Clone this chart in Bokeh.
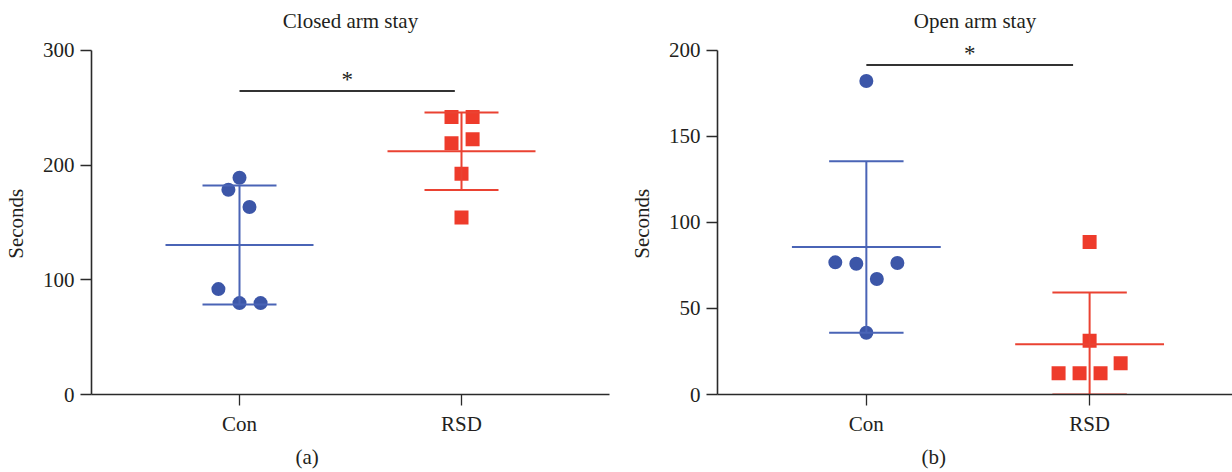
import numpy as np
from bokeh.plotting import figure
from bokeh.layouts import row
from bokeh.models import Range1d, FixedTicker, Title
from bokeh.embed import file_html
from bokeh.resources import INLINE

# ---------------- data ----------------
groups = ["Con", "RSD"]
group_pos = [1, 2]

closed_con = [189.0, 178.5, 163.5, 91.9, 79.7, 79.7]
closed_con_jitter = [0.0, -0.05, 0.045, -0.095, 0.0, 0.095]
closed_rsd = [242.0, 242.0, 219.0, 222.6, 192.4, 154.2]
closed_rsd_jitter = [-0.045, 0.05, -0.045, 0.05, 0.0, 0.0]

open_con = [182.2, 76.8, 76.0, 76.4, 67.1, 35.9]
open_con_jitter = [0.0, -0.139, -0.045, 0.139, 0.047, 0.0]
open_rsd = [88.7, 31.2, 12.3, 12.3, 12.3, 18.1]
open_rsd_jitter = [0.0, 0.0, -0.139, -0.045, 0.049, 0.139]

closed_ticks = [0, 100, 200, 300]
open_ticks = [0, 50, 100, 150, 200]
closed_sig = 264.6
open_sig = 191.5
sig_text = "*"
y_label = "Seconds"

# ---------------- style ----------------
FONT = "Liberation Serif"
TXT = "#231f20"
BLUE = "#3c56a8"
BLUE_LINE = "#4a64b6"
RED = "#ee3b2b"
RED_LINE = "#ea4232"
FS = "21px"

# frame geometry (pixels): axis top at 50 px, axis bottom at 395 px from canvas top
AX_TOP = 50
AX_BOTTOM = 395
TITLE_BASE = 21
# the frame reaches the top of the canvas, so the axis label is nudged down to the
# middle of the drawn axis (0..max) with trailing no-break spaces
LABEL_PAD = "\u00a0" * 10


def panel(title, con, con_j, rsd, rsd_j, ticks, ymax, xend, sig_y, sig_x1,
          letter, letter_offset, width, bl, br):
    per_px = ymax / (AX_BOTTOM - AX_TOP)
    ytop = AX_BOTTOM * per_px
    p = figure(width=width, height=472, output_backend="svg", toolbar_location=None,
               x_range=Range1d(1 / 3, xend), y_range=Range1d(0, ytop),
               min_border_left=bl, min_border_right=br, min_border_top=0,
               min_border_bottom=472 - AX_BOTTOM)
    p.background_fill_color = "white"
    p.border_fill_color = "white"
    p.outline_line_color = None
    p.grid.visible = False

    # title drawn as a text glyph above the axis top
    xmid = (1 / 3 + xend) / 2
    p.text(x=[xmid], y=[(AX_BOTTOM - TITLE_BASE) * per_px], text=[title],
           text_font=FONT, text_font_size=FS, text_color=TXT,
           text_align="center", text_baseline="alphabetic")

    for vals, jit, pos, mcol, lcol, marker in (
            (con, con_j, group_pos[0], BLUE, BLUE_LINE, "circle"),
            (rsd, rsd_j, group_pos[1], RED, RED_LINE, "square")):
        v = np.array(vals)
        m = float(v.mean())
        s = float(v.std(ddof=1))
        lo = max(m - s, 0.0)
        hi = m + s
        xs = [pos + j for j in jit]
        p.scatter(xs, vals, marker=marker, size=14, fill_color=mcol,
                  line_color=mcol, line_width=0)
        p.segment(x0=[pos - 1 / 3], y0=[m], x1=[pos + 1 / 3], y1=[m],
                  line_color=lcol, line_width=2)
        p.segment(x0=[pos - 1 / 6, pos - 1 / 6], y0=[lo, hi],
                  x1=[pos + 1 / 6, pos + 1 / 6], y1=[lo, hi],
                  line_color=lcol, line_width=2)
        p.segment(x0=[pos], y0=[lo], x1=[pos], y1=[hi], line_color=lcol, line_width=2)

    # significance bar
    p.segment(x0=[group_pos[0]], y0=[sig_y], x1=[sig_x1], y1=[sig_y],
              line_color="#333333", line_width=2.2)
    p.text(x=[(group_pos[0] + sig_x1) / 2], y=[sig_y], text=[sig_text],
           text_font=FONT, text_font_size="23px", text_color=TXT,
           text_align="center", text_baseline="alphabetic", y_offset=-11)

    # axes
    p.xaxis.ticker = FixedTicker(ticks=group_pos)
    p.xaxis.major_label_overrides = {group_pos[0]: groups[0], group_pos[1]: groups[1]}
    p.yaxis.ticker = FixedTicker(ticks=ticks)
    p.yaxis.bounds = (0, ymax)
    p.yaxis.axis_label = y_label + LABEL_PAD
    for ax in (p.xaxis[0], p.yaxis[0]):
        ax.axis_line_color = "#2a2a2a"
        ax.axis_line_width = 1.6
        ax.major_tick_line_color = "#2a2a2a"
        ax.major_tick_line_width = 1.3
        ax.major_tick_out = 11
        ax.major_tick_in = 0
        ax.minor_tick_line_color = None
        ax.major_label_text_font = FONT
        ax.major_label_text_font_size = FS
        ax.major_label_text_color = TXT
        ax.axis_label_text_font = FONT
        ax.axis_label_text_font_size = FS
        ax.axis_label_text_font_style = "normal"
        ax.axis_label_text_color = TXT
    p.xaxis.major_label_standoff = 6
    p.yaxis.major_label_standoff = 6
    p.yaxis.axis_label_standoff = 12

    # panel letter below the axis
    lt = Title(text=letter, align="left", offset=letter_offset, text_font=FONT,
               text_font_size=FS, text_font_style="normal", text_color=TXT, standoff=8)
    p.add_layout(lt, "below")
    return p


p1 = panel("Closed arm stay", closed_con, closed_con_jitter, closed_rsd, closed_rsd_jitter,
           closed_ticks, 300, 2 + 2 / 3, closed_sig, 1.97, "(a)", 204, 616, 91, 7)
p2 = panel("Open arm stay", open_con, open_con_jitter, open_rsd, open_rsd_jitter,
           open_ticks, 200, 2.64, open_sig, 1.926, "(b)", 204, 616, 101, 0)

layout = row(p1, p2)
open("out.html", "w").write(file_html(layout, INLINE))
